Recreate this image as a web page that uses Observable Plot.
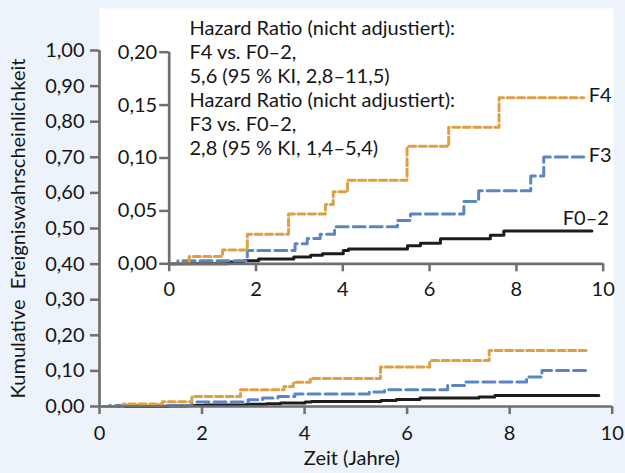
<!DOCTYPE html>
<html><head><meta charset="utf-8">
<script src="https://cdn.jsdelivr.net/npm/d3@7"></script>
<script src="https://cdn.jsdelivr.net/npm/@observablehq/plot@0.6"></script>
<style>
html,body{margin:0;padding:0;background:#ecf3fb;}
#wrap{position:relative;width:625px;height:473px;}
#wrap svg{position:absolute;left:0;top:0;}
</style></head><body><div id="wrap"></div>
<script>
// ---- data ----
const seriesNames = ["F4", "F3", "F0–2"];

const f4Time = [0, 0.46, 1.23, 1.80, 2.75, 3.60, 3.78, 4.11, 5.48, 6.44, 7.60, 9.55];
const f4Prob = [0, 0.007, 0.013, 0.028, 0.047, 0.056, 0.068, 0.079, 0.111, 0.129, 0.157, 0.157];

const f3Time = [0, 0.20, 1.80, 2.90, 3.18, 3.48, 3.81, 5.26, 5.56, 6.79, 7.13, 8.33, 8.63, 9.55];
const f3Prob = [0, 0.003, 0.0126, 0.019, 0.024, 0.028, 0.035, 0.041, 0.047, 0.059, 0.069, 0.083, 0.101, 0.101];

const f02Time = [0, 1.34, 1.71, 2.06, 2.87, 3.26, 3.53, 4.01, 4.13, 5.49, 5.79, 6.25, 7.40, 7.71, 9.74];
const f02Prob = [0, 0.0016, 0.003, 0.0045, 0.0065, 0.008, 0.0095, 0.0126, 0.014, 0.017, 0.0195, 0.0236, 0.027, 0.031, 0.031];

const xTicks = [0, 2, 4, 6, 8, 10];
const yTicksMain = [0, 0.1, 0.2, 0.3, 0.4, 0.5, 0.6, 0.7, 0.8, 0.9, 1.0];
const yTicksInset = [0, 0.05, 0.10, 0.15, 0.20];

const xTitle = "Zeit (Jahre)";
const yTitle = "Kumulative\u00A0\u00A0Ereigniswahrscheinlichkeit";
const annotationLines = [
  "Hazard Ratio (nicht adjustiert):",
  "F4 vs. F0–2,",
  "5,6 (95 % KI, 2,8–11,5)",
  "Hazard Ratio (nicht adjustiert):",
  "F3 vs. F0–2,",
  "2,8 (95 % KI, 1,4–5,4)"
];

// ---- build table ----
function rows(name, t, p) { return t.map((x, i) => ({series: name, t: x, p: p[i]})); }
const data = [
  ...rows("F4", f4Time, f4Prob),
  ...rows("F3", f3Time, f3Prob),
  ...rows("F0–2", f02Time, f02Prob)
];
const lastOf = name => { const r = data.filter(d => d.series === name); return r[r.length - 1]; };

const styles = {
  "F4":   {stroke: "#dea046", strokeDasharray: "7,3.5"},
  "F3":   {stroke: "#5a86c4", strokeDasharray: "12,5"},
  "F0–2": {stroke: "#1c1c1c", strokeDasharray: null}
};
const lineMarks = seriesNames.map(name => Plot.line(data.filter(d => d.series === name), {
  x: "t", y: "p", curve: "step-after", strokeWidth: 3,
  stroke: styles[name].stroke, strokeDasharray: styles[name].strokeDasharray
}));

const fmt = d => d.toFixed(2).replace(".", ",");
const axisGray = "#6f6f6f";
const textColor = "#151515";
const baseStyle = {fontFamily: "Lato, sans-serif", fontSize: "20px", background: "transparent", color: textColor, overflow: "visible"};

const main = Plot.plot({
  width: 625, height: 473,
  marginLeft: 99, marginRight: 13.3, marginTop: 50, marginBottom: 67,
  x: {domain: [0, 10]}, y: {domain: [0, 1]},
  style: baseStyle,
  marks: [
    Plot.frame({fill: "white", stroke: "none", insetTop: -42, insetRight: -1.3}),
    ...lineMarks.slice().reverse(),
    Plot.ruleX([0], {stroke: axisGray, strokeWidth: 2.7}),
    Plot.ruleY([0], {stroke: axisGray, strokeWidth: 2.7}),
    Plot.axisX(xTicks, {tickSize: 8, tickPadding: 11, stroke: axisGray, strokeWidth: 2.5, fill: textColor, label: null}),
    Plot.axisY(yTicksMain, {tickFormat: fmt, tickSize: 9, tickPadding: 6, stroke: axisGray, strokeWidth: 2.5, fill: textColor, label: null}),
    Plot.text([xTitle], {frameAnchor: "bottom", lineAnchor: "middle", dy: 52, dx: -4, fill: textColor}),
    Plot.text([yTitle], {frameAnchor: "left", rotate: -90, lineAnchor: "middle", textAnchor: "middle", dx: -81, fill: textColor}),
    Plot.text([annotationLines.join("\n")], {frameAnchor: "top-left", textAnchor: "start", lineAnchor: "top", lineHeight: 1.2, dx: 90, dy: -33, fill: textColor})
  ]
});

const inset = Plot.plot({
  width: 625, height: 473,
  marginLeft: 168.7, marginRight: 22.3, marginTop: 51.7, marginBottom: 209.7,
  x: {domain: [0, 10]}, y: {domain: [0, 0.2]},
  style: baseStyle,
  marks: [
    ...lineMarks.slice().reverse(),
    Plot.ruleX([0], {stroke: axisGray, strokeWidth: 2.7}),
    Plot.ruleY([0], {stroke: axisGray, strokeWidth: 2.7}),
    Plot.axisX(xTicks, {tickSize: 8, tickPadding: 10, stroke: axisGray, strokeWidth: 2.5, fill: textColor, label: null}),
    Plot.axisY(yTicksInset, {tickFormat: fmt, tickSize: 9.5, tickPadding: 2.5, stroke: axisGray, strokeWidth: 2.5, fill: textColor, label: null}),
    Plot.text([lastOf("F4")], {x: "t", y: "p", text: d => d.series, textAnchor: "start", dx: 5, dy: -2, fill: textColor}),
    Plot.text([lastOf("F3")], {x: "t", y: "p", text: d => d.series, textAnchor: "start", dx: 5, dy: -1, fill: textColor}),
    Plot.text([lastOf("F0–2")], {x: "t", y: "p", text: d => d.series, textAnchor: "end", dx: 17, dy: -12, fill: textColor})
  ]
});

const wrap = document.getElementById("wrap");
wrap.appendChild(main);
wrap.appendChild(inset);
</script>
</body></html>
